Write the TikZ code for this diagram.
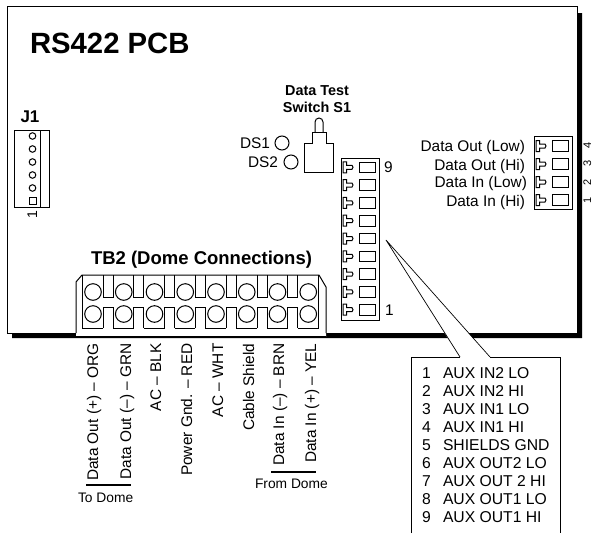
\documentclass[tikz,border=0pt]{standalone}
\usepackage{fontspec}
\setmainfont{Liberation Sans}
\newcommand{\fsz}[1]{\fontsize{#1}{#1}\selectfont}
\tikzset{
  x=1pt,y=-1pt,
  every node/.style={inner sep=0pt,outer sep=0pt},
  ln/.style={line width=1pt,draw=black,line join=miter},
  txt/.style={font=\fsz{15.4},anchor=base west},
  txtr/.style={font=\fsz{15.4},anchor=base east},
  vert/.style={font=\fsz{15.4},anchor=base east,rotate=90},
  edgenum/.style={font=\fsz{11},anchor=base,rotate=90},
  bold/.style={font=\fsz{#1}\bfseries},
  bar/.style={line width=2pt,draw=black},
}
\newcommand{\tabrow}[3]{% x of tab, x of box, centre y
  \draw[ln] (#1,#3-5.5) -- (#1+3.5,#3-5.5) -- (#1+3.5,#3-2) -- (#1+9,#3-2) -- (#1+10,#3) -- (#1+9,#3+2) -- (#1+3.5,#3+2) -- (#1+3.5,#3+5.5) -- (#1,#3+5.5) -- cycle;
  \draw[ln] (#2,#3-5.3) rectangle (#2+16,#3+5.3);
}
\begin{document}
\begin{tikzpicture}
\useasboundingbox (0,0) rectangle (593,533);
% board
\draw[ln] (7,333) -- (7,6) -- (577,6) -- (577,333) -- cycle;
\fill[black] (12,333) -- (577,333) -- (577,13) -- (582,13) -- (582,338) -- (12,338) -- cycle;
\node[bold=29.3,anchor=base west] (title) at (30,53) {RS422 PCB};
% J1
\node[bold=17,anchor=base] (j1lab) at (30,122) {J1};
\draw[ln] (14,130) rectangle (49,207);
\draw[ln] (40,130) -- (40,207);
\foreach \y in {136,149,162,175,188} \draw[ln] (32.5,\y) circle (3.3);
\draw[ln] (29.5,197) rectangle (36,204);
\node[font=\fsz{14},anchor=base,rotate=90] (j1one) at (37,215) {1};
% switch
\node[bold=14.4,anchor=base] (swa) at (317,95) {Data Test};
\node[bold=14.4,anchor=base] (swb) at (317,112) {Switch S1};
\draw[ln] (304,172) -- (304,143) -- (312,143) -- (312,132) -- (326,132) -- (326,143) -- (333,143) -- (333,172) -- cycle;
\draw[ln] (315,132) -- (315,122) arc[start angle=180,end angle=360,radius=4] -- (323,132);
\node[txt] (ds1) at (240,148) {DS1};
\node[txt] (ds2) at (248,167.5) {DS2};
\draw[ln] (282,143) circle (7);
\draw[ln] (291,162) circle (7);
% 9-way connector
\draw[ln] (341,158) rectangle (379,320);
\foreach \i in {0,...,8} {
  \pgfmathsetmacro{\c}{167.3+\i*17.8}
  \tabrow{343}{359}{\c}
}
\node[txt] (nine) at (384,172) {9};
\node[txt] (one) at (385,315) {1};
% 4-way connector
\draw[ln] (534,136) rectangle (572,209);
\foreach \c in {146,164,182,200} \tabrow{536}{552}{\c};
\node[txtr] (r1) at (525,151.7) {Data Out (Low)};
\node[txtr] (r2) at (525,170) {Data Out (Hi)};
\node[txtr] (r3) at (527,187.7) {Data In (Low)};
\node[txtr] (r4) at (525,206) {Data In (Hi)};
\node[edgenum] (n4) at (591,145) {4};
\node[edgenum] (n3) at (591,163) {3};
\node[edgenum] (n2) at (591,182) {2};
\node[edgenum] (n1) at (591,200) {1};
% TB2
\node[bold=18.5,anchor=base west] (tb2) at (91,264) {TB2 (Dome Connections)};
\fill[white] (76,336.5) -- (76,282) -- (82,275) -- (319,275) -- (326,287) -- (326,336.5) -- cycle;
\draw[ln] (76,333) -- (76,282) -- (82,275) -- (319,275) -- (326,287) -- (326,333);
\draw[ln] (76,336.5) -- (326,336.5);
\draw[ln] (82,275) -- (82,328) -- (103,328);
\foreach \i in {0,...,6} {
  \pgfmathsetmacro{\a}{103+\i*30.8}
  \draw[ln] (\a,275) -- (\a,297) -- (\a+10,297) -- (\a+10,275);
  \draw[ln] (\a,328) -- (\a,307) -- (\a+10,307) -- (\a+10,328);
  \draw[ln] (\a+10,328) -- (\a+30.8,328);
}
\draw[ln] (318.6,275) -- (318.6,328);
\foreach \i in {0,...,7} {
  \pgfmathsetmacro{\a}{93+\i*30.75}
  \draw[ln] (\a,292) circle (8.3);
  \draw[ln] (\a,314) circle (8.3);
}
% wire labels
\node[vert] (w1) at (98,343.5) {Data Out (+) – ORG};
\node[vert] (w2) at (131,343.5) {Data Out (–) – GRN};
\node[vert] (w3) at (161,343.5) {AC – BLK};
\node[vert] (w4) at (192,343.5) {Power Gnd. – RED};
\node[vert] (w5) at (223,343.5) {AC – WHT};
\node[vert] (w6) at (254,343.5) {Cable Shield};
\node[vert] (w7) at (284,343.5) {Data In (–) – BRN};
\node[vert] (w8) at (316,343.5) {Data In (+) – YEL};
\draw[bar] (86,485) -- (131,485);
\draw[bar] (271,472) -- (316,472);
\node[font=\fsz{13.8},anchor=base west] (todome) at (78,502) {To Dome};
\node[font=\fsz{13.8},anchor=base west] (fromdome) at (255,488) {From Dome};
% callout
\fill[white] (386,240) -- (460,357.5) -- (490,357.5) -- cycle;
\draw[line width=0.7pt] (460,357) -- (386,240) -- (490,357);
\draw[line width=0.8pt] (411,533) -- (411,357) -- (460,357);
\draw[line width=0.8pt] (490,357) -- (560,357) -- (560,533);
\foreach \n/\t/\y in {1/AUX IN2 LO/378,2/AUX IN2 HI/396,3/AUX IN1 LO/414,4/AUX IN1 HI/432,5/SHIELDS GND/450.5,6/AUX OUT2 LO/468,7/AUX OUT 2 HI/486,8/AUX OUT1 LO/504,9/AUX OUT1 HI/522} {
  \node[txt,font=\fsz{15.7}] (num\n) at (422,\y) {\n};
  \node[txt,font=\fsz{15.7}] (aux\n) at (443,\y) {\t};
}
\end{tikzpicture}
\end{document}
